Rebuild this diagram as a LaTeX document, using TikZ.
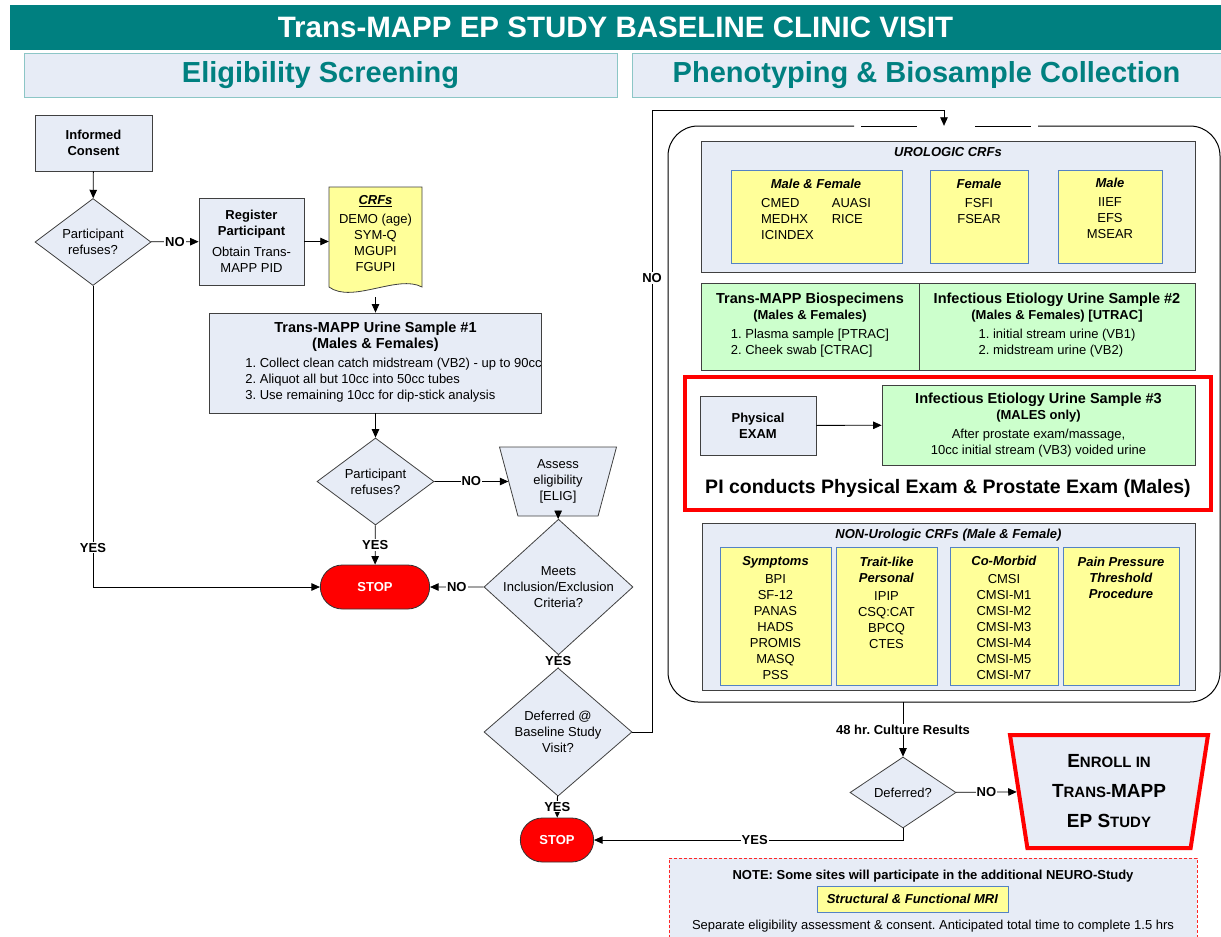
\documentclass[tikz,border=0pt]{standalone}
\usepackage{fontspec}
\setmainfont{Liberation Sans}
\usetikzlibrary{positioning, arrows.meta, shapes.geometric, shapes.misc}

\definecolor{paleblue}{RGB}{231,236,246}
\definecolor{paleyellow}{RGB}{255,255,153}
\definecolor{palegreen}{RGB}{204,255,204}
\definecolor{tealbar}{RGB}{0,128,128}
\definecolor{ybord}{RGB}{84,130,196}

\newcommand{\nsz}{\fontsize{13}{16}\selectfont}
\newcommand{\ttl}[1]{{\fontsize{14.5}{17}\selectfont\bfseries #1}}
\newcommand{\hd}[1]{\textbf{\textit{#1}}}
\newcommand{\bigsc}[2]{{\fontsize{19}{22}\selectfont #1}{\fontsize{15}{22}\selectfont #2}}
\frenchspacing

\tikzset{
	hdr/.style={draw=tealbar!45, fill=paleblue, line width=0.8pt, minimum height=44, text=tealbar, font=\fontsize{29}{30}\selectfont\bfseries},
	box/.style={draw=black!75, fill=paleblue, line width=0.8pt, font=\nsz, align=center, inner sep=0pt},
	gbox/.style={draw=black!75, fill=palegreen, line width=0.8pt, font=\nsz, align=center, inner sep=0pt},
	ybox/.style={draw=ybord, fill=paleyellow, line width=0.6pt},
	dia/.style={diamond, draw=black!75, fill=paleblue, line width=0.8pt, font=\nsz, align=center, inner sep=0pt},
	trap/.style={trapezium, shape border rotate=180, trapezium stretches body, draw=black!75, fill=paleblue, line width=0.8pt, font=\nsz, align=center, inner sep=1pt},
	stopnode/.style={rounded rectangle, draw=black!80, fill=red, line width=0.8pt, minimum height=44, text=white, font=\nsz\bfseries},
	txt/.style={font=\nsz, align=center, inner sep=0pt},
	lbl/.style={fill=white, font=\nsz\bfseries, inner sep=1pt},
	conn/.style={->, line width=0.8pt},
}

\begin{document}
\begin{tikzpicture}[x=1pt, y=-1pt, >={Triangle[length=8.5pt, width=7.5pt]}]
	\useasboundingbox (0,0) rectangle (1221,937);

	\node[fill=tealbar, minimum width=1211, minimum height=45, text=white, font=\fontsize{29.5}{30}\selectfont\bfseries] (title) at (615.5,27.5) {Trans-MAPP EP STUDY BASELINE CLINIC VISIT};
	\node[hdr, minimum width=593] (hdrl) at (320.5,75) {Eligibility Screening};
	\node[hdr, minimum width=589] (hdrr) at (926.5,75) {Phenotyping \& Biosample Collection};

	% eligibility screening
	\node[box, minimum width=117, minimum height=56, font=\nsz\bfseries] (consent) at (93.5,143) {Informed\\Consent};
	\node[dia, minimum width=116, minimum height=87] (d1) at (93,242) {Participant\\refuses?};
	\node[box, minimum width=105, minimum height=87] (reg) at (251.5,241.5) {\textbf{Register}\\\textbf{Participant}\\[5pt]Obtain Trans-\\MAPP PID};
	\filldraw[fill=paleyellow, draw=black!75, line width=0.8pt] (329,187) -- (422,187) -- (422,287) .. controls (398,274) and (352,304) .. (329,287) -- cycle;
	\node[txt, minimum width=93, minimum height=127] (crf) at (375.5,233.5) {\underline{\hd{CRFs}}\\[3pt]DEMO (age)\\SYM-Q\\MGUPI\\FGUPI};
	\node[box, minimum width=323, minimum height=100] (urine1) at (375.5,363) {\ttl{Trans-MAPP Urine Sample \#1}\\\ttl{(Males \& Females)}\\[3pt]\begin{tabular}[t]{@{\hspace{36pt}}l@{}}1. Collect clean catch midstream (VB2) - up to 90cc\\2. Aliquot all but 10cc into 50cc tubes\\3. Use remaining 10cc for dip-stick analysis\end{tabular}};
	\node[dia, minimum width=117, minimum height=87] (d2) at (375.5,481.5) {Participant\\refuses?};
	\node[trap, minimum width=117, minimum height=69, trapezium left angle=68, trapezium right angle=68] (assess) at (558,481.5) {Assess\\eligibility\\{[ELIG]}};
	\node[dia, minimum width=149, minimum height=100, inner xsep=-8pt] (d3) at (558.5,587) {Meets\\Inclusion/Exclusion\\Criteria?};
	\node[stopnode, minimum width=116] (stop1) at (375,587) {STOP};
	\node[dia, minimum width=148, minimum height=90] (d4) at (558,732) {Deferred @\\Baseline Study\\Visit?};
	\node[stopnode, minimum width=80] (stop2) at (557,840) {STOP};
	\coordinate (nob) at (652,110);

	% phenotyping
	\node[minimum width=552, minimum height=576] (pheno) at (944,414) {};
	\draw[line width=1pt, rounded corners=30] (854,126) -- (668,126) -- (668,702) -- (1220,702) -- (1220,126) -- (1038,126);
	\draw[line width=1pt] (861,126) -- (917,126) (975,126) -- (1031,126);

	\node[box, minimum width=494, minimum height=131] (uro) at (948,206.5) {};
	\node[txt] (urot) at (948,152) {\hd{UROLOGIC CRFs}};
	\node[ybox, minimum width=171, minimum height=93] (mf) at (816.5,216.5) {};
	\node[ybox, minimum width=98, minimum height=93] (fem) at (979,216.5) {};
	\node[ybox, minimum width=104, minimum height=93] (male) at (1110,216.5) {};
	\node[txt] (mft) at (816,212) {\hd{Male \& Female}\\[3pt]\begin{tabular}[t]{@{}l@{\hspace{18pt}}l@{}}CMED & AUASI\\MEDHX & RICE\\ICINDEX & \end{tabular}};
	\node[txt] (femt) at (979,201) {\hd{Female}\\[3pt]FSFI\\FSEAR};
	\node[txt] (malet) at (1110,208) {\hd{Male}\\[3pt]IIEF\\EFS\\MSEAR};

	\node[gbox, minimum width=218, minimum height=87] (bio) at (810,326.5) {\ttl{Trans-MAPP Biospecimens}\\\textbf{(Males \& Females)}\\[3pt]\begin{tabular}[t]{@{}l@{}}1. Plasma sample [PTRAC]\\2. Cheek swab [CTRAC]\end{tabular}};
	\node[gbox, minimum width=276, minimum height=87] (inf2) at (1057,326.5) {\ttl{Infectious Etiology Urine Sample \#2}\\\textbf{(Males \& Females) [UTRAC]}\\[3pt]\begin{tabular}[t]{@{}l@{}}1. initial stream urine (VB1)\\2. midstream urine (VB2)\end{tabular}};

	\node[draw=red, line width=4pt, minimum width=526, minimum height=133] (pired) at (948,443.5) {};
	\node[box, minimum width=116, minimum height=59, font=\nsz\bfseries] (phys) at (758,425.5) {Physical\\EXAM};
	\node[gbox, minimum width=313, minimum height=80] (inf3) at (1038.5,425) {\ttl{Infectious Etiology Urine Sample \#3}\\\textbf{(MALES only)}\\[3pt]After prostate exam/massage,\\10cc initial stream (VB3) voided urine};
	\node[font=\fontsize{19.5}{22}\selectfont\bfseries] (pict) at (948,488) {PI conducts Physical Exam \& Prostate Exam (Males)};

	\node[box, minimum width=493, minimum height=167] (nonuro) at (948.5,606.5) {};
	\node[txt] (nonurot) at (948.5,535) {\hd{NON-Urologic CRFs (Male \& Female)}};
	\node[ybox, minimum width=111, minimum height=138] (sym) at (775.5,616) {};
	\node[ybox, minimum width=101, minimum height=138] (trait) at (886.5,616) {};
	\node[ybox, minimum width=108, minimum height=138] (como) at (1004,616) {};
	\node[ybox, minimum width=116, minimum height=138] (pain) at (1121,616) {};
	\node[txt] (symt) at (775.5,618) {\hd{Symptoms}\\[2pt]BPI\\SF-12\\PANAS\\HADS\\PROMIS\\MASQ\\PSS};
	\node[txt] (traitt) at (886.5,603) {\hd{Trait-like}\\\hd{Personal}\\[2pt]IPIP\\CSQ:CAT\\BPCQ\\CTES};
	\node[txt] (comot) at (1004,618) {\hd{Co-Morbid}\\[2pt]CMSI\\CMSI-M1\\CMSI-M2\\CMSI-M3\\CMSI-M4\\CMSI-M5\\CMSI-M7};
	\node[txt] (paint) at (1121,578) {\hd{Pain Pressure}\\\hd{Threshold}\\\hd{Procedure}};

	\node[dia, minimum width=106, minimum height=71] (d5) at (903,792.5) {Deferred?};
	\node[trap, draw=red, line width=4pt, minimum width=198, minimum height=113, trapezium left angle=77, trapezium right angle=77, font=\fontsize{15}{30}\selectfont\bfseries] (enroll) at (1109,791.5) {\bigsc{E}{NROLL IN}\\\bigsc{T}{RANS-}\bigsc{MAPP}{}\\\bigsc{EP S}{TUDY}};

	\node[draw=red!85, dash pattern=on 3pt off 2pt, fill=paleblue, line width=0.8pt, minimum width=528, minimum height=82] (note) at (933,899) {};
	\node[font=\nsz\bfseries] (notet) at (933,876) {NOTE: Some sites will participate in the additional NEURO-Study};
	\node[ybox, minimum width=191, minimum height=26, font=\nsz] (mri) at (912.5,899) {\hd{Structural \& Functional MRI}};
	\node[font=\nsz] (sept) at (933,926) {Separate eligibility assessment \& consent. Anticipated total time to complete 1.5 hrs};

	% connectors
	\draw[conn] (consent) -- (d1);
	\draw[conn] (d1) -- node[lbl]{NO} (reg);
	\draw[conn] (reg.east) -- (reg.east -| crf.west);
	\draw[conn] (crf.south) -- (urine1);
	\draw[conn] (urine1) -- (d2);
	\draw[conn] (d2) -- node[lbl]{NO} (assess);
	\draw[conn] (d2) -- node[lbl]{YES} (stop1);
	\draw[conn] (assess) -- (d3);
	\draw[conn] (d3) -- node[lbl]{NO} (stop1);
	\draw[conn] (d1.south) -- node[lbl, pos=0.87]{YES} (d1.south |- stop1.west) -- (stop1.west);
	\draw[conn] (d3) -- node[lbl]{YES} (d4);
	\draw[conn] (d4) -- node[lbl]{YES} (stop2);
	\draw[conn] (d4.east) -| node[lbl, pos=0.865]{NO} (nob) -- (nob -| pheno.north) -- (pheno.north);
	\draw[conn] (phys) -- (inf3);
	\draw[conn] (pheno.south -| d5.north) -- node[lbl]{48 hr. Culture Results} (d5.north);
	\draw[conn] (d5) -- node[lbl]{NO} (enroll);
	\draw[conn] (d5.south) |- node[lbl, pos=0.74]{YES} (stop2.east);
\end{tikzpicture}
\end{document}
